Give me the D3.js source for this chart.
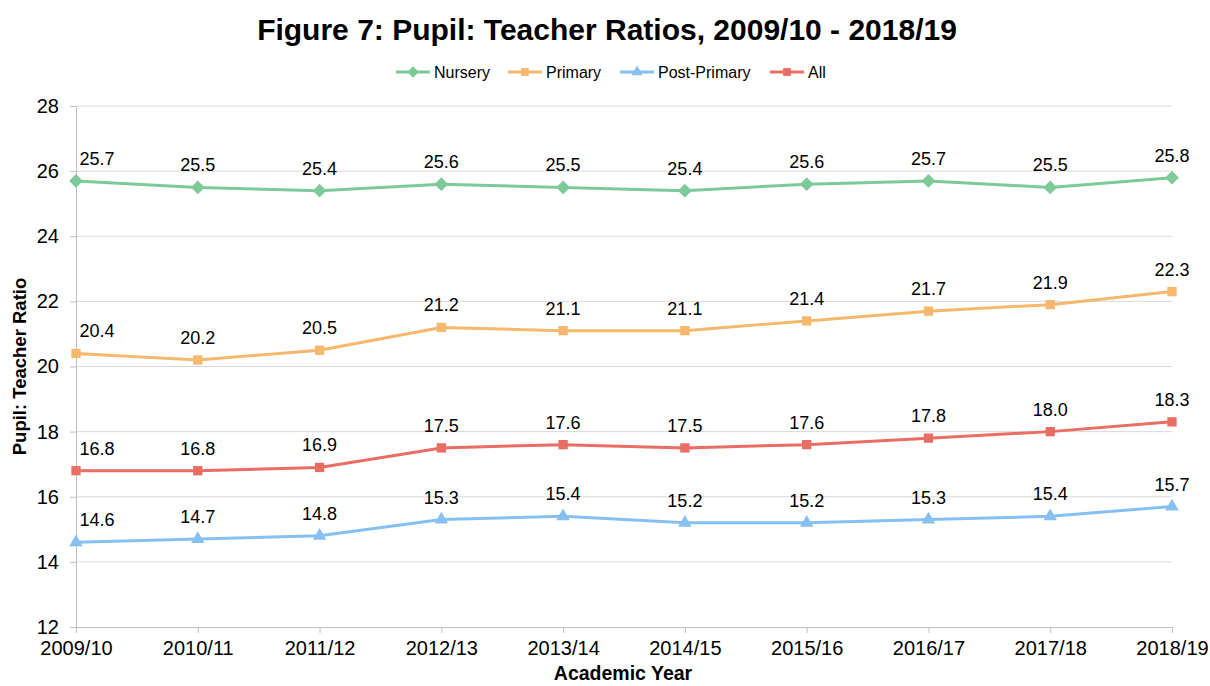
<!DOCTYPE html>
<html>
<head>
<meta charset="utf-8">
<script src="https://cdn.jsdelivr.net/npm/d3@7"></script>
<style>
  body { margin: 0; background: #fff; }
  text { font-family: "Liberation Sans", Arial, sans-serif; fill: #000; }
</style>
</head>
<body>
<svg id="chart" width="1210" height="686"></svg>
<script>
// data
const years = ['2009/10', '2010/11', '2011/12', '2012/13', '2013/14', '2014/15', '2015/16', '2016/17', '2017/18', '2018/19']
const nursery = [25.7, 25.5, 25.4, 25.6, 25.5, 25.4, 25.6, 25.7, 25.5, 25.8]
const primary = [20.4, 20.2, 20.5, 21.2, 21.1, 21.1, 21.4, 21.7, 21.9, 22.3]
const postPrimary = [14.6, 14.7, 14.8, 15.3, 15.4, 15.2, 15.2, 15.3, 15.4, 15.7]
const all = [16.8, 16.8, 16.9, 17.5, 17.6, 17.5, 17.6, 17.8, 18.0, 18.3]
const yTicks = [12, 14, 16, 18, 20, 22, 24, 26, 28]

const series = [
    { name: 'Nursery', values: nursery, color: '#7dca99', symbol: d3.symbolDiamond2, size: 120 },
    { name: 'Primary', values: primary, color: '#f5b86c', symbol: d3.symbolSquare2, size: 110 },
    { name: 'Post-Primary', values: postPrimary, color: '#86c0f1', symbol: d3.symbolTriangle2, size: 130 },
    { name: 'All', values: all, color: '#e96d63', symbol: d3.symbolSquare2, size: 110 }
]

const margin = { top: 106, right: 38, bottom: 59, left: 76 }
const width = 1210, height = 686

const svg = d3.select('#chart')

const x = d3.scalePoint()
    .domain(years)
    .range([margin.left, width - margin.right])

const y = d3.scaleLinear()
    .domain([12, 28])
    .range([height - margin.bottom, margin.top])

// gridlines
svg.append('g')
    .selectAll('line')
    .data(yTicks.slice(1))
    .enter()
    .append('line')
    .attr('x1', margin.left)
    .attr('x2', width - margin.right)
    .attr('y1', d => y(d))
    .attr('y2', d => y(d))
    .attr('stroke', '#d9d9d9')
    .attr('stroke-width', 1)

// y axis
let yAxis = svg.append('g')
    .attr('transform', `translate(${margin.left},0)`)
    .call(d3.axisLeft(y).tickValues(yTicks).tickSize(6).tickPadding(11))
yAxis.select('.domain').attr('stroke', '#bfbfbf')
yAxis.selectAll('.tick line').attr('stroke', '#bfbfbf')
yAxis.selectAll('text').style('font-size', '20px').attr('fill', '#000')

// x axis
let xAxis = svg.append('g')
    .attr('transform', `translate(0,${height - margin.bottom})`)
    .call(d3.axisBottom(x).tickSize(6).tickPadding(8))
xAxis.select('.domain').attr('stroke', '#bfbfbf')
xAxis.selectAll('.tick line').attr('stroke', '#bfbfbf')
xAxis.selectAll('text').style('font-size', '20px').attr('fill', '#000')

// lines, markers, labels
const line = d3.line()
    .x((d, i) => x(years[i]))
    .y(d => y(d))

series.forEach(s => {
    let g = svg.append('g')
    g.append('path')
        .datum(s.values)
        .attr('d', line)
        .attr('fill', 'none')
        .attr('stroke', s.color)
        .attr('stroke-width', 3)

    g.selectAll('path.mark')
        .data(s.values)
        .enter()
        .append('path')
        .attr('class', 'mark')
        .attr('d', d3.symbol().type(s.symbol).size(s.size))
        .attr('transform', (d, i) => `translate(${x(years[i])},${y(d)})`)
        .attr('fill', s.color)

    g.selectAll('text')
        .data(s.values)
        .enter()
        .append('text')
        .attr('x', (d, i) => x(years[i]) + (i === 0 ? 21 : 0))
        .attr('y', d => y(d) - 16)
        .attr('text-anchor', 'middle')
        .style('font-size', '18px')
        .text(d => d.toFixed(1))
})

// title
svg.append('text')
    .attr('x', 607)
    .attr('y', 40)
    .attr('text-anchor', 'middle')
    .style('font-family', '"Liberation Sans Narrow", "Arial Narrow", "Liberation Sans", sans-serif')
    .style('font-weight', 'bold')
    .style('font-size', '30px')
    .text('Figure 7: Pupil: Teacher Ratios, 2009/10 - 2018/19')

// axis titles
svg.append('text')
    .attr('transform', `translate(26,${(margin.top + height - margin.bottom) / 2}) rotate(-90)`)
    .attr('text-anchor', 'middle')
    .style('font-weight', 'bold')
    .style('font-size', '18.5px')
    .text('Pupil: Teacher Ratio')

svg.append('text')
    .attr('x', 623)
    .attr('y', 680)
    .attr('text-anchor', 'middle')
    .style('font-weight', 'bold')
    .style('font-size', '19.5px')
    .text('Academic Year')

// legend
const legendX = [396, 508, 620, 770]
let legend = svg.append('g')
series.forEach((s, i) => {
    let lg = legend.append('g').attr('transform', `translate(${legendX[i]},72)`)
    lg.append('line')
        .attr('x1', 0).attr('x2', 34)
        .attr('stroke', s.color).attr('stroke-width', 3)
    lg.append('path')
        .attr('d', d3.symbol().type(s.symbol).size(s.size * 0.7))
        .attr('transform', 'translate(17,0)')
        .attr('fill', s.color)
    lg.append('text')
        .attr('x', 38).attr('y', 6)
        .style('font-size', '16px')
        .text(s.name)
})
</script>
</body>
</html>
